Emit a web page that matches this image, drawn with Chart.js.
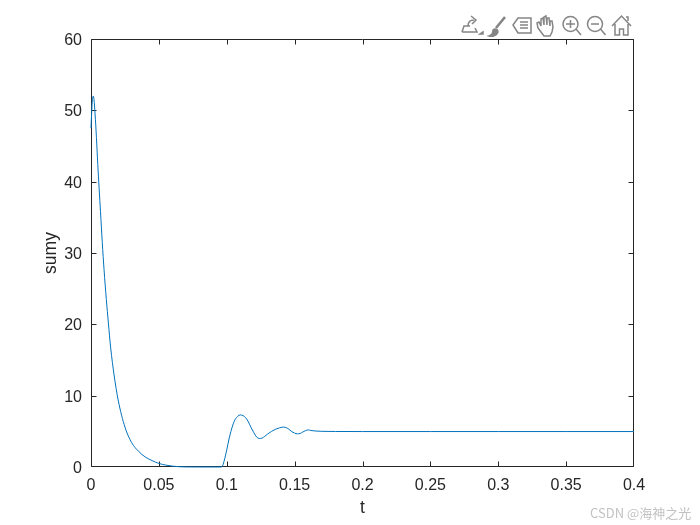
<!DOCTYPE html>
<html><head><meta charset="utf-8">
<script src="https://cdn.jsdelivr.net/npm/chart.js@4/dist/chart.umd.min.js"></script>
<style>
html,body{margin:0;padding:0;background:#fff;overflow:hidden}
#wrap{position:relative;width:700px;height:525px}
canvas{display:block}
#mark{position:absolute;left:590px;top:503px;font:13px "Noto Sans CJK SC","Liberation Sans",sans-serif;color:#c2c2c2;white-space:nowrap}
#tools{position:absolute;left:460px;top:14px}
</style></head><body>
<div id="wrap">
<canvas id="c" width="700" height="525"></canvas>
<svg id="tools" width="175" height="24" viewBox="0 0 175 24" fill="none" stroke="#858585" stroke-width="1.5">
<path d="M2 18l2-6h6M2 18h15l-2-4M8 12c0-4 2-6 6-6M11 2l5 4-4 4"/><path d="M20 20h3v-2z" fill="#858585"/>
<path d="M45 3L36 14" stroke-width="2.6"/><path d="M29 22c3-1 4-3 4-6 2-2 5-1 5 2-1 3-5 5-9 4z" fill="#858585"/>
<path d="M53 11l5-7h13v15H58zM60 8h8M60 11h8M60 14h8"/>
<path d="M78 14l-1-5 2-1 2 4V5l2-1 1 7V3l2-1 1 9V4l2 0 1 8V7l2 0 1 6-1 5-2 4H84l-3-4z"/>
<circle cx="110.5" cy="10" r="7.5"/><path d="M116 15l5 6M106 10h9M110.5 6v8"/>
<circle cx="135" cy="10" r="7.5"/><path d="M140.5 15l5 6M131 10h8"/>
<path d="M152 12l9.5-10 9.5 10M155 10v11h4.500v-6h4v6h4.500V10M166 3h2v4"/>
</svg>
<div id="mark">CSDN @海神之光</div>
</div>
<script>
const tVals = [0,0.0004,0.0008,0.0012,0.0017,0.0022,0.003,0.004,0.005,0.006,0.007,0.0083,0.0096,0.0113,0.0128,0.0145,0.017,0.02,0.025,0.03,0.035,0.04,0.045,0.05,0.055,0.06,0.065,0.07,0.08,0.09,0.095,0.0965,0.098,0.1,0.102,0.104,0.106,0.108,0.11,0.112,0.114,0.116,0.118,0.12,0.122,0.124,0.126,0.128,0.13,0.133,0.136,0.139,0.142,0.145,0.148,0.15,0.152,0.154,0.156,0.158,0.16,0.162,0.165,0.17,0.18,0.2,0.25,0.3,0.35,0.4];
const yVals = [47.5,49.3,50.8,51.7,52,51.5,49.5,46.2,42.4,39,35.8,31.5,27.7,23.5,20.2,16.7,12.9,9.4,5.6,3.4,2.2,1.4,0.9,0.5,0.27,0.12,0.04,0.01,0,0,0,0.05,0.8,2.4,4.2,5.6,6.6,7.1,7.3,7.2,6.9,6.3,5.5,4.8,4.2,4,4.05,4.3,4.6,5,5.3,5.5,5.6,5.4,4.95,4.75,4.65,4.7,4.9,5.1,5.2,5.12,5.05,5,4.98,4.97,4.97,4.97,4.97,4.97];
const xTickStep = 0.05, yTickStep = 10;
const xLabel = 't', yLabel = 'sumy';

const frame = {
  id:'frame',
  beforeDatasetsDraw(chart){
    const {ctx,chartArea:a,scales:{x,y}} = chart;
    const L=a.left+.5,R=a.right-.5,T=a.top+.5,B=a.bottom-.5,len=5;
    ctx.save();
    ctx.strokeStyle='#262626';ctx.lineWidth=1;
    ctx.beginPath();
    ctx.rect(L,T,R-L,B-T);
    x.ticks.forEach((t,i)=>{const p=Math.min(R,Math.round(x.getPixelForTick(i))+.5);
      ctx.moveTo(p,B);ctx.lineTo(p,B-len);ctx.moveTo(p,T);ctx.lineTo(p,T+len);});
    y.ticks.forEach((t,i)=>{const p=Math.min(B,Math.round(y.getPixelForTick(i))+.5);
      ctx.moveTo(L,p);ctx.lineTo(L+len,p);ctx.moveTo(R,p);ctx.lineTo(R-len,p);});
    ctx.stroke();ctx.restore();
  }
};
const fontF = {family:'"Liberation Sans",Arial,sans-serif',size:16};
const fontT = {family:'"Liberation Sans",Arial,sans-serif',size:17.5};
new Chart(document.getElementById('c'),{
  type:'line',
  data:{datasets:[{data:tVals.map((t,i)=>({x:t,y:yVals[i]})),borderColor:'#0072BD',borderWidth:1,pointRadius:0,cubicInterpolationMode:'monotone',clip:2}]},
  plugins:[frame],
  options:{
    responsive:false,animation:false,
    layout:{padding:{top:39,right:66,left:0,bottom:0}},
    plugins:{legend:{display:false},tooltip:{enabled:false}},
    scales:{
      x:{type:'linear',min:0,max:0.4,
        afterFit(s){s.height=58;},
        grid:{display:false},border:{display:false},
        ticks:{stepSize:xTickStep,color:'#262626',font:fontF,padding:1,maxRotation:0,autoSkip:false,callback:v=>String(+v.toFixed(2))},
        title:{display:true,text:xLabel,color:'#262626',font:fontT,padding:{top:0,bottom:6}}},
      y:{type:'linear',min:0,max:60,
        afterFit(s){s.width=91;},
        grid:{display:false},border:{display:false},
        ticks:{stepSize:yTickStep,color:'#262626',font:fontF,padding:1,labelOffset:1.5},
        title:{display:true,text:yLabel,color:'#262626',font:fontT,padding:{top:41,bottom:0}}}
    }
  }
});
</script>
</body></html>
